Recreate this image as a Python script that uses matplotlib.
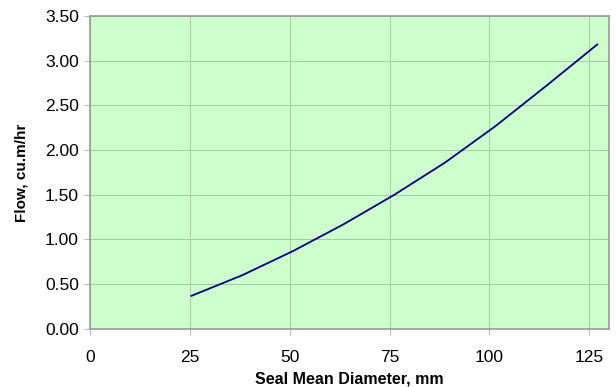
import matplotlib.pyplot as plt

# Seal mean diameter (mm) vs flow (cu.m/hr)
diametro = [25.4, 38.1, 50.8, 63.5, 76.2, 88.9, 101.6, 114.3, 127.0]
flujo = [0.37, 0.60, 0.87, 1.17, 1.50, 1.86, 2.27, 2.72, 3.18]

plt.rcParams['font.family'] = ['Liberation Sans', 'DejaVu Sans']

fig = plt.figure(figsize=(6.16, 3.87), dpi=100)
ax = fig.add_axes([0.146, 0.150, 0.843, 0.809])
ax.set_facecolor('#CCFFCC')

ax.plot(diametro, flujo, color='#000080', linewidth=1.3)

ax.set_xlim(0, 130)
ax.set_ylim(0, 3.5)
ax.set_xticks([0, 25, 50, 75, 100, 125])
ax.set_yticks([0, 0.5, 1.0, 1.5, 2.0, 2.5, 3.0, 3.5])
ax.set_yticklabels(['%.2f' % v for v in ax.get_yticks()])

ax.grid(True, color='#A8C8A8', linewidth=0.7)
ax.set_axisbelow(True)
for s in ax.spines.values():
    s.set_color('#999999')
    s.set_linewidth(1.2)

ax.tick_params(axis='both', labelsize=12.5, length=4, color='#BBBBBB', pad=4)
ax.tick_params(axis='x', pad=11)

ax.set_xlabel('Seal Mean Diameter, mm', fontsize=11.5, fontweight='bold', labelpad=5)
ax.set_ylabel('Flow, cu.m/hr', fontsize=11, fontweight='bold', labelpad=12)

fig.savefig('out.png', dpi=100)
